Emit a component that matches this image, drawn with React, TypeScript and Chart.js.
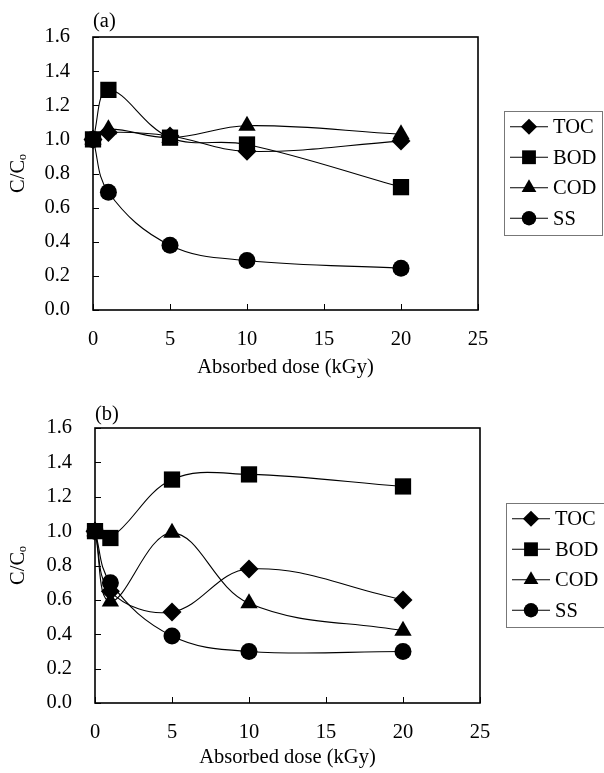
import React, { useEffect, useRef } from 'react';
import { Chart, registerables } from 'chart.js';
import { drawPoint } from 'chart.js/helpers';

Chart.register(...registerables);

// ---- data ----
const doses = [0, 1, 5, 10, 20];
const seriesNames = ['TOC', 'BOD', 'COD', 'SS'];
const xTickValues = [0, 5, 10, 15, 20, 25];
const yTickValues = [0, 0.2, 0.4, 0.6, 0.8, 1.0, 1.2, 1.4, 1.6];

// panel (a)
const tocA = [1.0, 1.04, 1.02, 0.93, 0.99];
const bodA = [1.0, 1.29, 1.01, 0.97, 0.72];
const codA = [1.0, 1.06, 1.01, 1.08, 1.03];
const ssA = [1.0, 0.69, 0.38, 0.29, 0.245];

// panel (b)
const tocB = [1.0, 0.65, 0.53, 0.78, 0.6];
const bodB = [1.0, 0.96, 1.3, 1.33, 1.26];
const codB = [1.0, 0.59, 0.99, 0.58, 0.42];
const ssB = [1.0, 0.7, 0.39, 0.3, 0.3];

// ---- style ----
const markerStyles = ['rectRot', 'rect', 'triangle', 'circle'];
const markerRadii = [9.5, 11.5, 10, 8.5];
const FAMILY = "'Liberation Serif', 'Times New Roman', 'DejaVu Serif', serif";
const FSIZE = 20.5;
const font = { family: FAMILY, size: FSIZE, weight: 'normal' as const };

interface PanelDef {
  label: string;
  series: number[][];
  canvasTop: number;
  canvasHeight: number;
  plot: { left: number; top: number; right: number; bottom: number };
  titleBottomPad: number;
  tickPad: number;
  labelOffset: number;
}

const W = 604;

const panels: PanelDef[] = [
  {
    label: '(a)',
    series: [tocA, bodA, codA, ssA],
    canvasTop: 0,
    canvasHeight: 386,
    plot: { left: 93, top: 37, right: 478, bottom: 310 },
    titleBottomPad: 6,
    tickPad: 17,
    labelOffset: 15,
  },
  {
    label: '(b)',
    series: [tocB, bodB, codB, ssB],
    canvasTop: 380,
    canvasHeight: 393,
    plot: { left: 95, top: 48, right: 480, bottom: 323 },
    titleBottomPad: 3,
    tickPad: 17,
    labelOffset: 13,
  },
];

const decorPlugin = {
  id: 'decor',
  beforeDatasetsDraw(chart: any) {
    const { ctx, chartArea: a } = chart;
    const xs = chart.scales.x;
    const ys = chart.scales.y;
    ctx.save();
    ctx.strokeStyle = '#000';
    ctx.lineWidth = 1;
    ctx.beginPath();
    xs.ticks.forEach((t: any) => {
      const px = Math.round(xs.getPixelForValue(t.value)) + 0.5;
      ctx.moveTo(px, a.bottom);
      ctx.lineTo(px, a.bottom - 6);
    });
    ys.ticks.forEach((t: any) => {
      const py = Math.round(ys.getPixelForValue(t.value)) + 0.5;
      ctx.moveTo(a.left, py);
      ctx.lineTo(a.left + 6, py);
    });
    ctx.stroke();
    ctx.lineWidth = 1.6;
    ctx.strokeRect(a.left, a.top, a.right - a.left, a.bottom - a.top);
    ctx.restore();
  },
  afterDraw(chart: any, _args: any, opts: any) {
    const { ctx, chartArea: a } = chart;
    ctx.save();
    ctx.fillStyle = '#000';
    ctx.font = `${FSIZE}px ${FAMILY}`;
    ctx.textBaseline = 'middle';
    ctx.textAlign = 'left';
    ctx.fillText(opts.label, a.left, a.top - opts.labelOffset);

    // legend
    const boxLeft = a.right + 26;
    const boxW = 98;
    const boxH = 124;
    const cy = (a.top + a.bottom) / 2 - 1;
    const boxTop = cy - boxH / 2;
    ctx.strokeStyle = '#777';
    ctx.lineWidth = 1;
    ctx.strokeRect(boxLeft + 0.5, Math.round(boxTop) + 0.5, boxW, boxH);
    chart.data.datasets.forEach((ds: any, i: number) => {
      const y = cy + (i - 1.5) * 30.5;
      ctx.strokeStyle = '#000';
      ctx.lineWidth = 1.2;
      ctx.beginPath();
      ctx.moveTo(boxLeft + 6, y);
      ctx.lineTo(boxLeft + 44, y);
      ctx.stroke();
      ctx.fillStyle = '#000';
      drawPoint(ctx, { pointStyle: ds.pointStyle, radius: ds.pointRadius * 0.85, rotation: 0, borderWidth: 0 } as any, boxLeft + 25, y);
      ctx.fillStyle = '#000';
      ctx.font = `${FSIZE}px ${FAMILY}`;
      ctx.textBaseline = 'middle';
      ctx.textAlign = 'left';
      ctx.fillText(ds.label, boxLeft + 49, y + 1);
    });
    ctx.restore();
  },
};

function makeConfig(p: PanelDef): any {
  return {
    type: 'line',
    data: {
      datasets: p.series.map((vals, i) => ({
        label: seriesNames[i],
        data: doses.map((d, j) => ({ x: d, y: vals[j] })),
        borderColor: '#000',
        backgroundColor: '#000',
        borderWidth: 1.1,
        pointStyle: markerStyles[i],
        pointRadius: markerRadii[i],
        pointBorderWidth: 0,
        pointBackgroundColor: '#000',
        tension: 0.38,
        fill: false,
        clip: false,
      })),
    },
    options: {
      responsive: false,
      animation: false,
      devicePixelRatio: 1,
      events: [],
      layout: {
        padding: { top: p.plot.top, right: W - p.plot.right, left: 0, bottom: 0 },
      },
      plugins: {
        legend: { display: false },
        tooltip: { enabled: false },
        decor: { label: p.label, labelOffset: p.labelOffset },
      },
      scales: {
        x: {
          type: 'linear',
          min: 0,
          max: 25,
          afterBuildTicks: (axis: any) => {
            axis.ticks = xTickValues.map((v) => ({ value: v }));
          },
          grid: { display: false, drawTicks: false },
          border: { display: false },
          ticks: { font, color: '#000', padding: p.tickPad, maxRotation: 0, autoSkip: false },
          title: {
            display: true,
            text: 'Absorbed dose (kGy)',
            font,
            color: '#000',
            padding: { top: 0, bottom: p.titleBottomPad },
          },
          afterFit: (s: any) => {
            s.height = p.canvasHeight - p.plot.bottom;
          },
        },
        y: {
          type: 'linear',
          min: 0,
          max: 1.6,
          afterBuildTicks: (axis: any) => {
            axis.ticks = yTickValues.map((v) => ({ value: v }));
          },
          grid: { display: false, drawTicks: false },
          border: { display: false },
          ticks: {
            font,
            color: '#000',
            padding: 23,
            autoSkip: false,
            callback: (v: any) => Number(v).toFixed(1),
          },
          title: {
            display: true,
            text: 'C/Cₒ',
            font,
            color: '#000',
            padding: { top: 6, bottom: 0 },
          },
          afterFit: (s: any) => {
            s.width = p.plot.left;
          },
        },
      },
    },
    plugins: [decorPlugin],
  };
}

function Panel({ p }: { p: PanelDef }) {
  const ref = useRef<HTMLCanvasElement | null>(null);
  useEffect(() => {
    if (!ref.current) return;
    const chart = new Chart(ref.current, makeConfig(p));
    return () => chart.destroy();
  }, [p]);
  return (
    <canvas
      ref={ref}
      width={W}
      height={p.canvasHeight}
      style={{ position: 'absolute', left: 0, top: p.canvasTop, width: W, height: p.canvasHeight }}
    />
  );
}

export default function App() {
  return (
    <div
      style={{
        position: 'absolute',
        left: 0,
        top: 0,
        width: W,
        height: 773,
        overflow: 'hidden',
        background: '#fff',
      }}
    >
      {panels.map((p) => (
        <Panel key={p.label} p={p} />
      ))}
    </div>
  );
}
